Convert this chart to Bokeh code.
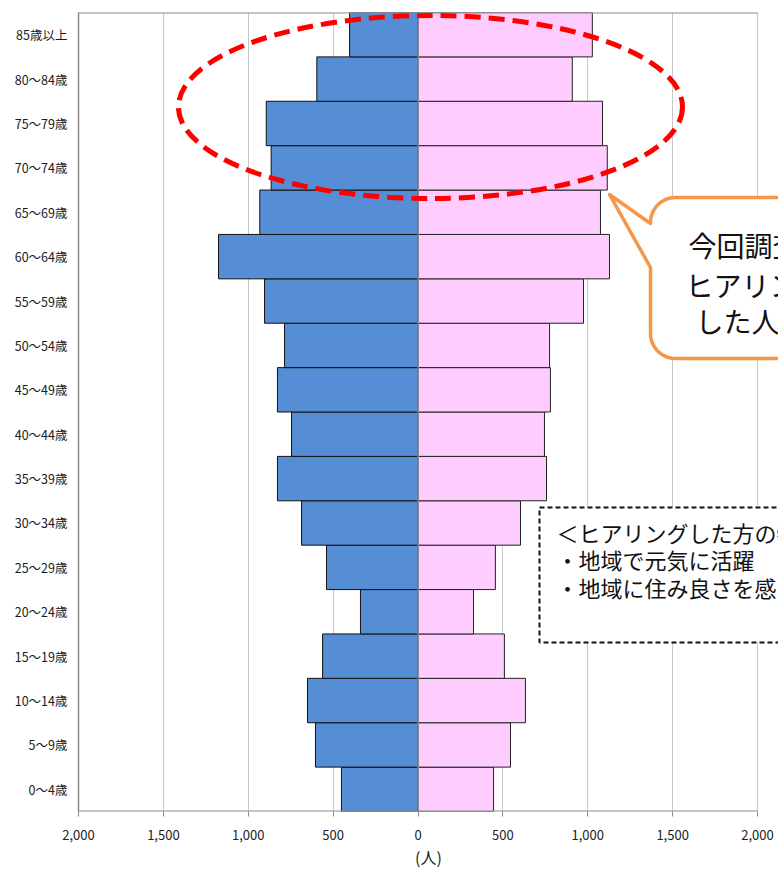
import numpy as np
from bokeh.plotting import figure
from bokeh.models import Range1d, FixedTicker, ColumnDataSource
from bokeh.core.properties import value
from bokeh.embed import file_html
from bokeh.resources import INLINE

# ---- data (bottom to top) ----
age_groups = ["0～4歳", "5～9歳", "10～14歳", "15～19歳", "20～24歳", "25～29歳",
              "30～34歳", "35～39歳", "40～44歳", "45～49歳", "50～54歳", "55～59歳",
              "60～64歳", "65～69歳", "70～74歳", "75～79歳", "80～84歳", "85歳以上"]
male = [451, 604, 651, 562, 339, 539, 686, 828, 745, 828, 786, 904,
        1175, 932, 865, 894, 596, 403]
female = [445, 545, 633, 509, 327, 456, 604, 757, 745, 780, 775, 975,
          1128, 1075, 1115, 1087, 909, 1027]
x_ticks = [-2000, -1500, -1000, -500, 0, 500, 1000, 1500, 2000]
x_tick_labels = ["2,000", "1,500", "1,000", "500", "0", "500", "1,000", "1,500", "2,000"]
callout_lines = ["今回調査で", "ヒアリング", "した人の"]
note_lines = ["＜ヒアリングした方の特徴＞", "・地域で元気に活躍", "・地域に住み良さを感じている"]

FONT = "Noto Sans CJK JP"

# ---- layout (pixels) ----
W, H = 778, 874
FL, FT, FB = 78, 12, 811          # frame left / top / bottom
X2000 = 757                       # pixel of +2000
upp = 4000 / (X2000 - FL)         # units per pixel (x)
x_end = 2000 + (W - X2000) * upp
n = len(age_groups)
vpp = n / (FB - FT)               # units per pixel (y)

def px2x(px):
    return -2000 + (np.asarray(px, dtype=float) - FL) * upp

def py2y(py):
    return (n - 0.5) - (np.asarray(py, dtype=float) - FT) * vpp

p = figure(width=W, height=H, x_range=Range1d(-2000, x_end), y_range=Range1d(-0.5, n - 0.5),
           output_backend="svg", toolbar_location=None,
           min_border_left=FL, min_border_right=0, min_border_top=FT, min_border_bottom=H - FB)
p.outline_line_color = None
p.background_fill_color = "white"
p.border_fill_color = "white"

idx = list(range(n))
src = ColumnDataSource(dict(y=idx, male=[-m for m in male], female=female))

# grid
p.ygrid.grid_line_color = None
p.xgrid.ticker = FixedTicker(ticks=x_ticks)
p.xgrid.grid_line_color = "#C8C8C8"
p.xgrid.grid_line_width = 1

# bars
p.hbar(y="y", left="male", right=0, height=1.0, source=src,
       fill_color="#558ED5", line_color="#111111", line_width=1)
p.hbar(y="y", left=0, right="female", height=1.0, source=src,
       fill_color="#FFCCFF", line_color="#222222", line_width=1)

# centre axis line, top and bottom border
p.segment(x0=[0], x1=[0], y0=[-0.5], y1=[n - 0.5], line_color="#8C8C8C", line_width=1.5)
p.segment(x0=[-2000], x1=[2000], y0=[n - 0.5], y1=[n - 0.5], line_color="#8C8C8C", line_width=2)
p.segment(x0=[-2000], x1=[2000], y0=[-0.5], y1=[-0.5], line_color="#8C8C8C", line_width=2)

# axes
p.xaxis.ticker = FixedTicker(ticks=x_ticks)
p.xaxis.major_label_overrides = {t: l for t, l in zip(x_ticks, x_tick_labels)}
p.xaxis.axis_line_color = None
p.xaxis.major_tick_line_color = "#8C8C8C"
p.xaxis.major_tick_out = 5
p.xaxis.major_tick_in = 0
p.xaxis.minor_tick_line_color = None
p.xaxis.major_label_standoff = 13
p.xaxis.major_label_text_font = FONT
p.xaxis.major_label_text_font_size = "13px"
p.xaxis.major_label_text_color = "#222222"
p.xaxis.axis_label = "(人)"
p.xaxis.axis_label_text_font = FONT
p.xaxis.axis_label_text_font_size = "16px"
p.xaxis.axis_label_text_font_style = "normal"
p.xaxis.axis_label_text_color = "#222222"
p.xaxis.axis_label_standoff = 2

p.yaxis.ticker = FixedTicker(ticks=idx)
p.yaxis.major_label_overrides = {i: g for i, g in zip(idx, age_groups)}
p.yaxis.axis_line_color = "#8C8C8C"
p.yaxis.axis_line_width = 1.5
p.yaxis.major_tick_line_color = None
p.yaxis.minor_tick_line_color = None
p.yaxis.major_tick_out = 0
p.yaxis.major_label_standoff = 11
p.yaxis.major_label_text_font = FONT
p.yaxis.major_label_text_font_size = "12.5px"
p.yaxis.major_label_text_color = "#1a1a1a"

# red dashed ellipse around the elderly groups
p.ellipse(x=[float(px2x(430))], y=[float(py2y(106.5))], width=[504 * upp], height=[183 * vpp],
          fill_color=None, line_color="#FF0000", line_width=5, line_dash="16 8")

# speech-bubble callout
L, T, R, B, r = 650, 197, 920, 358, 25
a = np.linspace(0, np.pi / 2, 12)
bl_x = L + r - r * np.cos(a)
bl_y = B - r + r * np.sin(a)
tl_x = L + r - r * np.sin(a)
tl_y = T + r - r * np.cos(a)
xs = [L, L] + list(bl_x) + [R, R] + list(tl_x) + [L, 609, L]
ys = [267, B - r] + list(bl_y) + [B, T] + list(tl_y) + [223, 194, 267]
p.patch(x=px2x(xs), y=py2y(ys), fill_color="white", line_color="#F79646",
        line_width=3.5, line_join="round")
p.text(x=px2x([688, 685, 695]), y=py2y([244, 284, 320]), text=callout_lines,
       text_font=value(FONT), text_font_size="28px", text_color="#111111",
       text_align="left", text_baseline="middle")

# dashed note box
p.quad(left=[float(px2x(539))], right=[float(px2x(920))], top=[float(py2y(507))], bottom=[float(py2y(642))],
       fill_color="white", line_color="#111111", line_width=2, line_dash="5 3")
p.text(x=px2x([556] * 3), y=py2y([531, 558, 586]), text=note_lines,
       text_font=value(FONT), text_font_size="22px", text_color="#111111",
       text_align="left", text_baseline="middle")

open("out.html", "w").write(file_html(p, INLINE))
